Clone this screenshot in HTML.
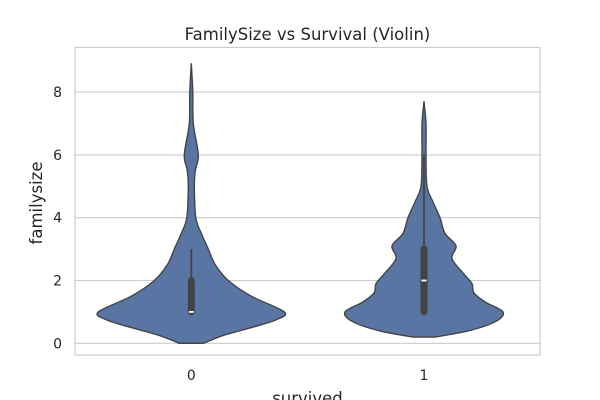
<!DOCTYPE html>
<html><head><meta charset="utf-8"><style>
body{margin:0;background:#fff;}
svg{display:block;font-family:"DejaVu Sans","Liberation Sans",sans-serif;}
</style></head><body>
<svg id="chart" width="600" height="400">
<rect x="0" y="0" width="600" height="400" fill="#fff"/>
<g id="grid"></g>
<g id="violins"></g>
<rect x="75" y="47.5" width="465" height="307.5" fill="none" stroke="#cccccc" stroke-width="1.2"/>
<text x="307.5" y="40" text-anchor="middle" font-size="16.5" fill="#262626">FamilySize vs Survival (Violin)</text>
<text transform="translate(42,203) rotate(-90)" text-anchor="middle" font-size="16.5" fill="#262626">familysize</text>
<text x="307.5" y="404" text-anchor="middle" font-size="16.5" fill="#262626">survived</text>
<g id="ticks"></g>
</svg>
<script>
const categories=["0","1"];
const yTicks=[0,2,4,6,8];
// density profiles: value levels and half-widths (px) at those levels
const levels0=[0,0.25,0.5,0.75,1,1.5,2,2.5,3,3.5,4,5,5.5,6,7,8,8.9];
const widths0=[12,32,60,85,93,60,37,24,17,10,4.5,3,4,7,2,1.5,0];
const levels1=[0.2,0.4,0.7,1,1.3,1.6,1.9,2.2,2.7,3.1,3.5,4,4.5,5,6,7,7.7];
const widths1=[11,45,72,79,62,50,48,40,28,32,21,16,9,3,2,2,0];
const q1s=[1,1], q3s=[2,3], medians=[1,2], wLo=[1,1], wHi=[3,6];
const NS="http://www.w3.org/2000/svg";
const xPos=i=>191.3+i*(424-191.3);
const yPos=v=>343.3-v*31.4;
const grid=document.getElementById('grid'), vg=document.getElementById('violins'), tg=document.getElementById('ticks');
function mk(tag,attrs,parent){const e=document.createElementNS(NS,tag);for(const k in attrs)e.setAttribute(k,attrs[k]);parent.appendChild(e);return e;}
yTicks.forEach(t=>{
  const l=mk('line',{x1:75,x2:540,y1:yPos(t),y2:yPos(t),stroke:'#cccccc','stroke-width':1.1},grid);
  
  
  const tx=mk('text',{x:62,y:yPos(t)+5,'text-anchor':'end','font-size':14,fill:'#262626'},tg);
  tx.textContent=t;
  
  
});
categories.forEach((c,i)=>{
  const tx=mk('text',{x:xPos(i),y:380,'text-anchor':'middle','font-size':14,fill:'#262626'},tg);
  tx.textContent=c;
  
  
});
function spline(pts){
  let d='M'+pts[0][0]+','+pts[0][1];
  for(let i=0;i<pts.length-1;i++){
    const p0=pts[Math.max(0,i-1)],p1=pts[i],p2=pts[i+1],p3=pts[Math.min(pts.length-1,i+2)];
    const c1=[p1[0]+(p2[0]-p0[0])/6,p1[1]+(p2[1]-p0[1])/6];
    const c2=[p2[0]-(p3[0]-p1[0])/6,p2[1]-(p3[1]-p1[1])/6];
    d+=' C'+c1[0].toFixed(2)+','+c1[1].toFixed(2)+' '+c2[0].toFixed(2)+','+c2[1].toFixed(2)+' '+p2[0].toFixed(2)+','+p2[1].toFixed(2);
  }
  return d;
}
[[levels0,widths0],[levels1,widths1]].forEach(([lv,wd],i)=>{
  const cx=xPos(i);
  const right=lv.map((v,k)=>[cx+wd[k],yPos(v)]);
  const left=lv.map((v,k)=>[cx-wd[k],yPos(v)]).reverse();
  let d=spline(right)+' L'+left[0][0]+','+left[0][1]+spline(left).replace(/^M[^ ]+/,'')+' Z';
  const p=mk('path',{d:d,fill:'#5975a4',stroke:'#444444','stroke-width':1.4,'stroke-linejoin':'round'},vg);
  
  
  const w=mk('line',{x1:cx,x2:cx,y1:yPos(wLo[i]),y2:yPos(wHi[i]),stroke:'#444444','stroke-width':1.8},vg);
  
  
  const b=mk('line',{x1:cx,x2:cx,y1:yPos(q1s[i]),y2:yPos(q3s[i]),stroke:'#444444','stroke-width':7,'stroke-linecap':'round'},vg);
  
  
  const m=mk('line',{x1:cx-2.5,x2:cx+2.5,y1:yPos(medians[i]),y2:yPos(medians[i]),stroke:'#ffffff','stroke-width':1.8},vg);
  
  
});
</script>
</body></html>
